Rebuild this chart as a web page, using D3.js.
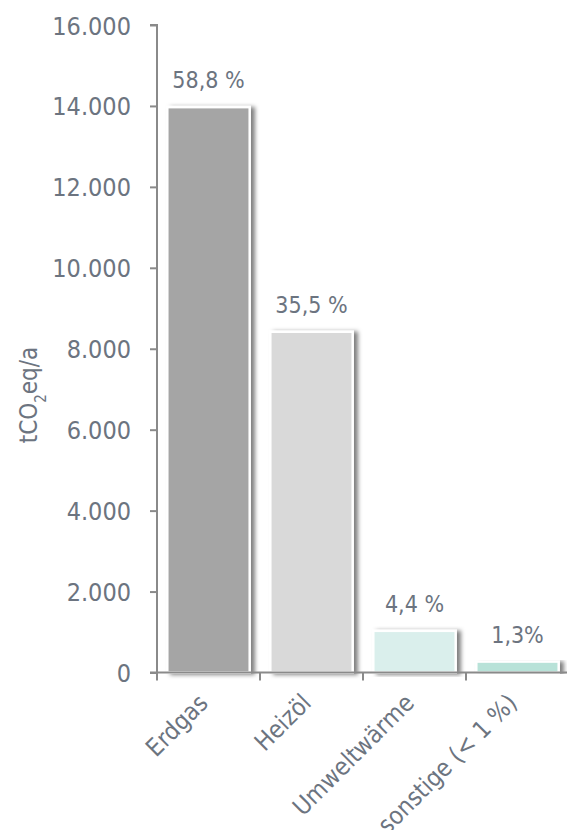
<!DOCTYPE html>
<html>
<head>
<meta charset="utf-8">
<script src="https://cdn.jsdelivr.net/npm/d3@7"></script>
<style>
  html, body { margin: 0; padding: 0; background: #fff; }
  svg { display: block; }
  text { font-family: "DejaVu Sans Condensed", "DejaVu Sans", sans-serif; font-stretch: condensed; fill: #6c7480; }
</style>
</head>
<body>
<svg id="chart" width="567" height="830"></svg>
<script>
const categories = ["Erdgas", "Heizöl", "Umweltwärme", "sonstige (< 1 %)"];
const values = [13970, 8420, 1030, 270];
const shareLabels = ["58,8 %", "35,5 %", "4,4 %", "1,3%"];
const barColors = ["#a5a5a5", "#d9d9d9", "#daefec", "#b8e2d8"];
const yTicks = [0, 2000, 4000, 6000, 8000, 10000, 12000, 14000, 16000];

const svg = d3.select("#chart");
const x0 = 157, x1 = 569, yBase = 672.5, yTop = 25;
const axisColor = "#8a8a8a";
const textColor = "#6c7480";
const fontStack = "'DejaVu Sans Condensed', 'DejaVu Sans', sans-serif";

const y = d3.scaleLinear().domain([0, 16000]).range([yBase, yTop]);
const x = d3.scaleBand().domain(categories).range([x0, x1]).paddingInner(0.2).paddingOuter(0.1);
const xCell = d3.scaleBand().domain(categories).range([x0, x1]).padding(0);

const defs = svg.append("defs");
const f = defs.append("filter").attr("id", "shadow")
  .attr("x", "-10%").attr("y", "-10%").attr("width", "130%").attr("height", "120%");
f.append("feDropShadow").attr("dx", 4).attr("dy", 1).attr("stdDeviation", 2.2)
  .attr("flood-color", "#000").attr("flood-opacity", 0.5);

// Bars
svg.append("g").selectAll("rect").data(categories).join("rect")
  .attr("x", d => x(d))
  .attr("y", (d, i) => y(values[i]))
  .attr("width", x.bandwidth())
  .attr("height", (d, i) => yBase - y(values[i]))
  .attr("fill", (d, i) => barColors[i])
  .attr("stroke", "#fff")
  .attr("stroke-width", 2.5)
  .attr("filter", "url(#shadow)");

// Value labels
svg.append("g").selectAll("text").data(categories).join("text")
  .attr("x", d => x(d) + x.bandwidth() / 2)
  .attr("y", (d, i) => y(values[i]) - 19)
  .attr("text-anchor", "middle")
  .style("font-size", "23px")
  .text((d, i) => shareLabels[i]);

// Y axis
const yAxis = d3.axisLeft(y).tickValues(yTicks).tickSize(7).tickPadding(19)
  .tickFormat(d => d3.format(",")(d).replace(/,/g, "."));
const gy = svg.append("g").attr("transform", `translate(${x0},0)`).call(yAxis);
gy.select(".domain").attr("stroke", axisColor).attr("stroke-width", 2).attr("d", `M-7,${yTop}H0V${yBase}`);
gy.selectAll(".tick line").attr("stroke", axisColor).attr("stroke-width", 2);
gy.selectAll(".tick text").style("font-size", "25px").attr("fill", textColor)
  .style("font-family", fontStack).attr("dy", "0.36em");

// X axis
const gx = svg.append("g").attr("transform", `translate(0,${yBase})`);
gx.append("line").attr("x1", x0 - 7).attr("x2", x1).attr("y1", 0).attr("y2", 0)
  .attr("stroke", axisColor).attr("stroke-width", 2);
const edges = categories.map(d => xCell(d)).concat([x1]);
gx.selectAll("line.edge").data(edges).join("line").attr("class", "edge")
  .attr("x1", d => d).attr("x2", d => d).attr("y1", 0).attr("y2", 8)
  .attr("stroke", axisColor).attr("stroke-width", 2);
gx.selectAll("text.cat").data(categories).join("text").attr("class", "cat")
  .attr("text-anchor", "end")
  .attr("transform", d => `translate(${xCell(d) + xCell.bandwidth() / 2 + 1},${32}) rotate(-45)`)
  .style("font-size", "24.5px")
  .text(d => d);

// Y title
svg.append("text")
  .attr("transform", `translate(37,395) rotate(-90)`)
  .attr("text-anchor", "middle")
  .style("font-size", "24px")
  .html('tCO<tspan baseline-shift="sub" font-size="15px">2</tspan>eq/a');
</script>
</body>
</html>
